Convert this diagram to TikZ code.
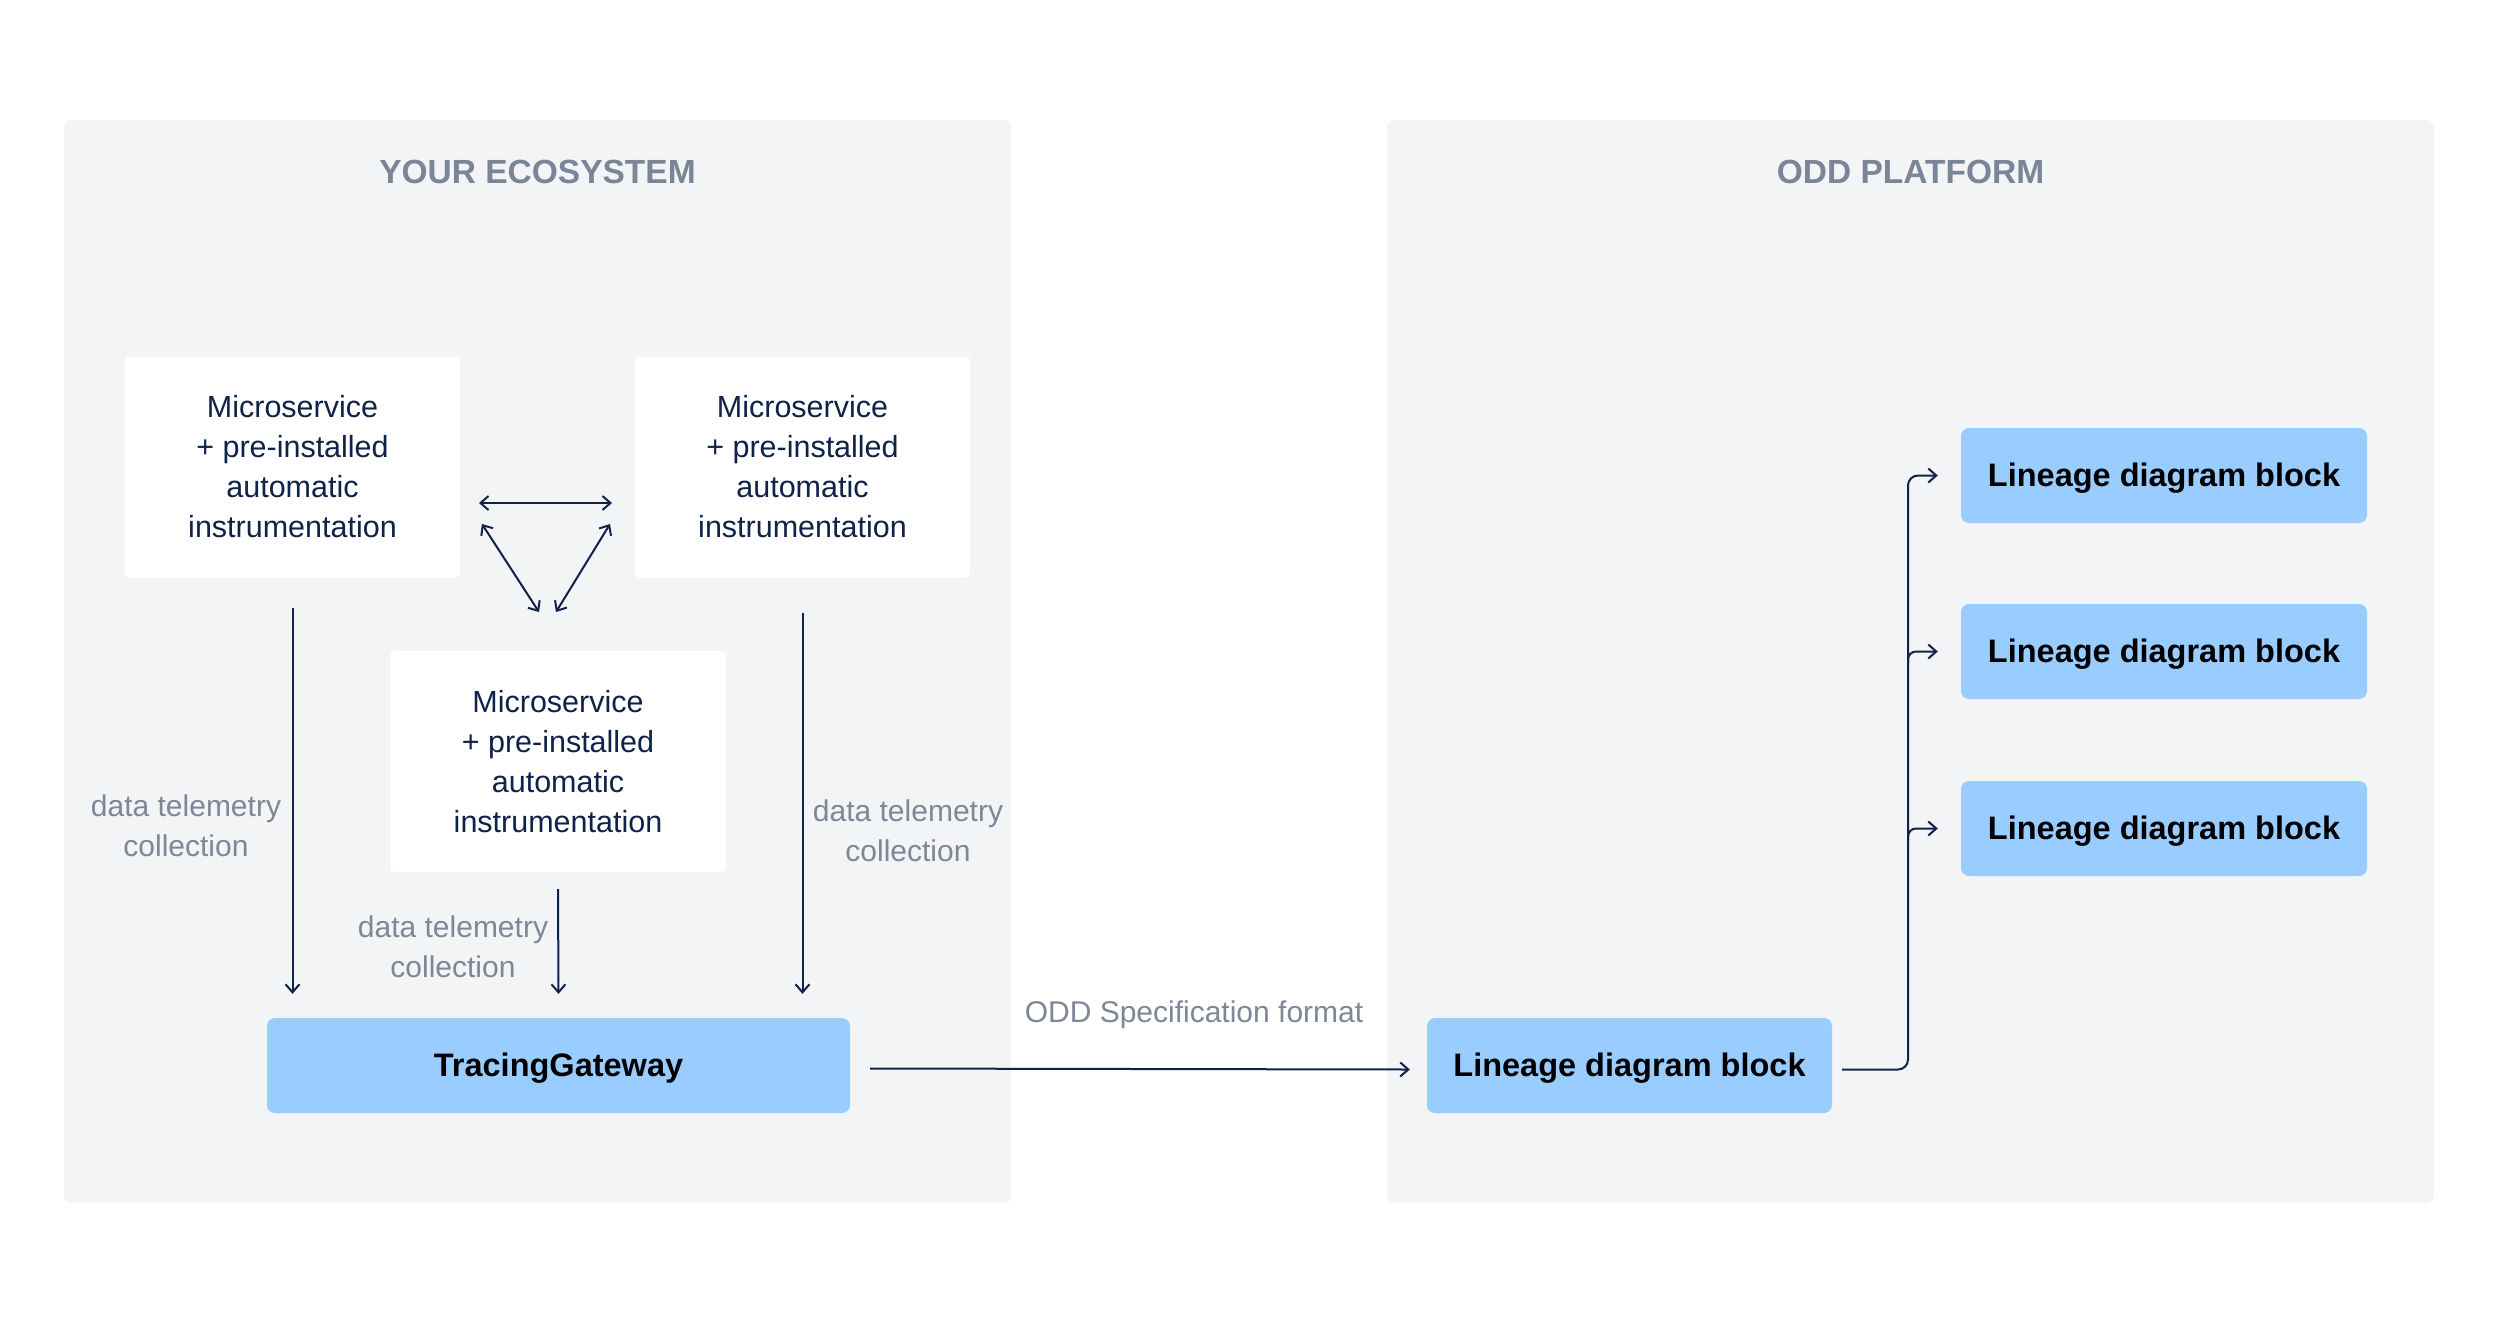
\documentclass[tikz,border=0pt]{standalone}
\usepackage{fontspec}
\setmainfont{Liberation Sans}
\usetikzlibrary{arrows.meta,calc}
\definecolor{panelbg}{HTML}{F3F4F6}
\definecolor{blueb}{HTML}{99CCFF}
\definecolor{navy}{HTML}{0F2249}
\definecolor{titlegray}{HTML}{7B8598}
\definecolor{lblgray}{HTML}{7E8797}
\begin{document}
\begin{tikzpicture}[x=1pt,y=-1pt,
 panel/.style={fill=panelbg, rounded corners=8pt},
 msbox/.style={fill=white, rounded corners=4pt, minimum width=335pt, minimum height=221pt, align=center, text=navy, font=\fontsize{30.5}{40}\selectfont, inner sep=0pt},
 bluebox/.style={fill=blueb, rounded corners=8pt, minimum height=95pt, inner sep=0pt, text height=29.6pt, text depth=6.8pt, font=\fontsize{32.5}{40}\selectfont\bfseries, text=black},
 lbl/.style={text=lblgray, align=center, font=\fontsize{30}{40}\selectfont, inner sep=0pt},
 ttl/.style={text=titlegray, font=\fontsize{33.5}{40}\selectfont\bfseries, inner sep=0pt},
 tip/.tip={Straight Barb[length=8pt,width=14pt]},
 arr/.style={draw=navy, line width=2pt, -tip},
 darr/.style={draw=navy, line width=2pt, tip-tip},
]
\useasboundingbox[fill=white] (0,0) rectangle (2495,1323);
% panels
\fill[panel] (64,120) rectangle (1011,1203);
\fill[panel] (1387,120) rectangle (2434,1203);
\node[ttl] (t1) at (537.5,172) {YOUR ECOSYSTEM};
\node[ttl] (t2) at (1910.5,172) {ODD PLATFORM};
% microservices
\node[msbox] (ms1) at (292.5,467) {Microservice\\+ pre-installed\\automatic\\instrumentation};
\node[msbox] (ms2) at (802.5,467) {Microservice\\+ pre-installed\\automatic\\instrumentation};
\node[msbox] (ms3) at (558,761.5) {Microservice\\+ pre-installed\\automatic\\instrumentation};
% gateway & lineage blocks
\node[bluebox, minimum width=583pt] (tg) at (558.5,1065.5) {TracingGateway};
\node[bluebox, minimum width=405pt] (ldb0) at (1629.5,1065.5) {Lineage diagram block};
\node[bluebox, minimum width=406pt] (ldb1) at (2164,475.5) {Lineage diagram block};
\node[bluebox, minimum width=406pt] (ldb2) at (2164,651.5) {Lineage diagram block};
\node[bluebox, minimum width=406pt] (ldb3) at (2164,828.5) {Lineage diagram block};
% triangle of mutual arrows
\coordinate (hl) at (479,503);
\coordinate (hr) at (612,503);
\coordinate (dl1) at (482,524);
\coordinate (dl2) at (539,612);
\coordinate (dr1) at (610,524);
\coordinate (dr2) at (556,612);
\draw[darr] (hl) -- (hr);
\draw[darr] (dl1) -- (dl2);
\draw[darr] (dr1) -- (dr2);
% telemetry arrows
\draw[arr] ($(ms1.south)+(0,30)$) -- ($(tg.north -| ms1.south)+(0,-24)$);
\draw[arr] ($(ms2.south)+(0,35)$) -- ($(tg.north -| ms2.south)+(0,-24)$);
\draw[arr] ($(ms3.south)+(0,17)$) -- ($(tg.north)+(0,-24)$);
\node[lbl] (l1) at (186,826) {data telemetry\\collection};
\node[lbl] (l2) at (453,947) {data telemetry\\collection};
\node[lbl] (l3) at (908,831) {data telemetry\\collection};
% spec format
\draw[arr] ($(tg.east)+(20,3)$) -- ($(ldb0.west)+(-17,4)$);
\node[lbl] (l4) at (1194,1015) {ODD Specification format};
% fan-out
\coordinate (bus) at (1908,0);
\draw[arr, rounded corners=10pt] ($(ldb0.east)+(10,4)$) -- ($(bus |- ldb0.east)+(0,4)$) -- (bus |- ldb1.west) -- ($(ldb1.west)+(-23,0)$);
\draw[arr, rounded corners=8pt] ($(bus |- ldb2.west)+(0,12)$) -- (bus |- ldb2.west) -- ($(ldb2.west)+(-23,0)$);
\draw[arr, rounded corners=8pt] ($(bus |- ldb3.west)+(0,12)$) -- (bus |- ldb3.west) -- ($(ldb3.west)+(-23,0)$);
\end{tikzpicture}
\end{document}
